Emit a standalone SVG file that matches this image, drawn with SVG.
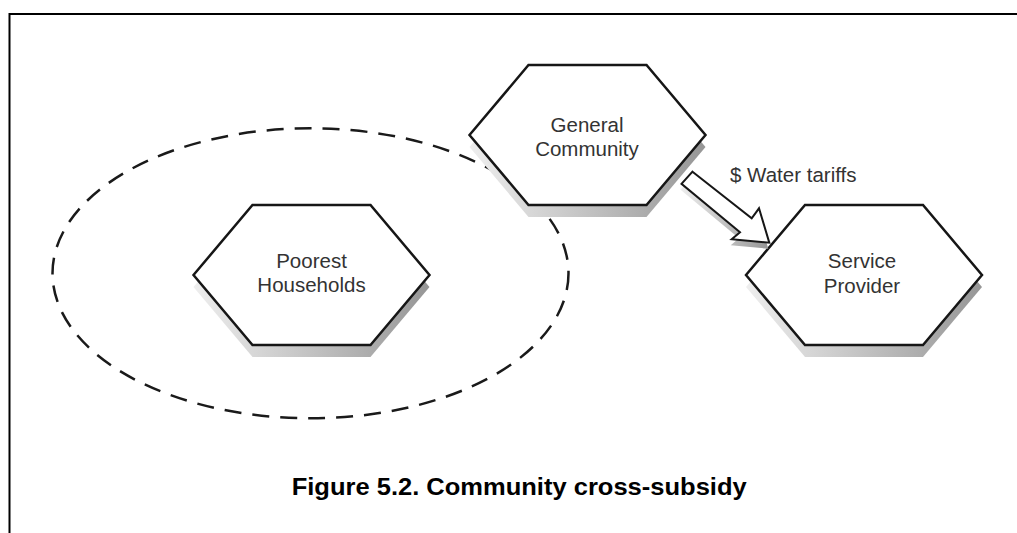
<svg xmlns="http://www.w3.org/2000/svg" width="1017" height="533" viewBox="0 0 1017 533">
  <style>
    .hex { fill: #ffffff; stroke: #161616; stroke-width: 2.5; stroke-linejoin: miter; }
    .shadow { fill: url(#shadowGrad); stroke: none; }
    .label { font-family: "Liberation Sans", Arial, sans-serif; font-size: 20.5px; fill: #333333; text-anchor: middle; }
    .caption { font-family: "Liberation Sans", Arial, sans-serif; font-size: 23.5px; font-weight: bold; fill: #000000; }
    .frame { fill: none; stroke: #000000; stroke-width: 2; }
    .boundary { fill: none; stroke: #1a1a1a; stroke-width: 2.5; stroke-dasharray: 17 11; }
    .arrow { fill: #ffffff; stroke: #161616; stroke-width: 2; stroke-linejoin: miter; }
  </style>
  <defs>
    <linearGradient id="shadowGrad" x1="0" y1="0" x2="1" y2="0">
      <stop offset="0" stop-color="#eeeeee"/>
      <stop offset="1" stop-color="#969696"/>
    </linearGradient>
    <polygon id="hexShape" points="-118,0 -59,-70 59,-70 118,0 59,70 -59,70"/>
  </defs>

  <rect width="1017" height="533" fill="#ffffff"/>

  <g id="frame">
    <path class="frame" d="M9.5,533 L9.5,14 L1017,14"/>
  </g>

  <g id="community-boundary">
    <ellipse class="boundary" cx="310.5" cy="273.3" rx="258" ry="145"/>
  </g>

  <g id="poorest-households">
    <use href="#hexShape" class="shadow" transform="translate(311.5,287)"/>
    <use href="#hexShape" class="hex" transform="translate(311.5,275)"/>
    <text class="label" x="311.5" y="268">Poorest</text>
    <text class="label" x="311.5" y="291.7">Households</text>
  </g>

  <g id="general-community">
    <use href="#hexShape" class="shadow" transform="translate(587.5,147)"/>
    <use href="#hexShape" class="hex" transform="translate(587.5,135)"/>
    <text class="label" x="587" y="131.7">General</text>
    <text class="label" x="587" y="156">Community</text>
  </g>

  <g id="service-provider">
    <use href="#hexShape" class="shadow" transform="translate(864,287)"/>
    <use href="#hexShape" class="hex" transform="translate(864,275)"/>
    <text class="label" x="862" y="268.3">Service</text>
    <text class="label" x="862" y="292.7">Provider</text>
  </g>

  <g id="connectors">
    <polygon class="shadow" transform="translate(-1,6)" points="692.5,171.7 751.7,218.3 759,208.3 769.3,242.7 731.7,239.3 740,232.2 681.5,183.8"/>
    <polygon class="arrow" points="692.5,171.7 751.7,218.3 759,208.3 769.3,242.7 731.7,239.3 740,232.2 681.5,183.8"/>
    <text class="label" x="730" y="181.7" style="text-anchor:start">$ Water tariffs</text>
  </g>

  <g id="caption">
    <text class="caption" x="291.7" y="495" textLength="455" lengthAdjust="spacingAndGlyphs">Figure 5.2. Community cross-subsidy</text>
  </g>
</svg>
